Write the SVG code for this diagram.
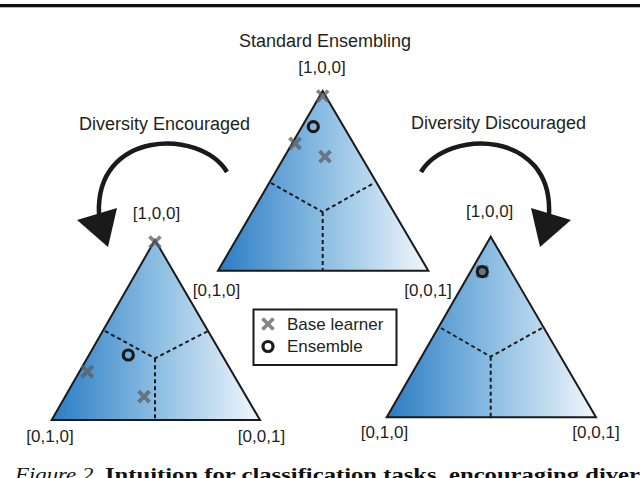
<svg xmlns="http://www.w3.org/2000/svg" xmlns:xlink="http://www.w3.org/1999/xlink" width="640" height="478" viewBox="0 0 640 478">
<style>
.lbl{font-family:"Liberation Sans","Noto Sans",Arial,sans-serif;font-size:17px;fill:#231f20}
.ttl{font-family:"Liberation Sans","Noto Sans",Arial,sans-serif;font-size:18px;fill:#231f20}
.tri{fill:url(#blue);stroke:#1a1a1a;stroke-width:2;stroke-linejoin:miter}
.dash{fill:none;stroke:#1a1a1a;stroke-width:2;stroke-dasharray:4 3}
.xm{stroke:#5a5f63;stroke-opacity:0.75;stroke-width:3.8;fill:none}
.ens{fill:none;stroke:#1a1a1a;stroke-width:3.2}
.arc{fill:none;stroke:#1a1a1a;stroke-width:4.5}
.head{fill:#1a1a1a}
.cap{font-family:"Liberation Serif","Times New Roman",serif;font-size:19px;fill:#111}
</style>
<defs>
<linearGradient id="blue" x1="0" y1="0" x2="1" y2="0">
<stop offset="0" stop-color="#2a7cc4"/>
<stop offset="0.5" stop-color="#8bbde2"/>
<stop offset="1" stop-color="#f2f7fc"/>
</linearGradient>
<path id="x" d="M-5.5,-5.5 L5.5,5.5 M-5.5,5.5 L5.5,-5.5"/>
</defs>
<rect x="0" y="4" width="640" height="3.3" fill="#111"/>

<g id="connectors">
<g id="arrow-encouraged">
<path class="arc" d="M227,172 C200,128 95,130 99,214"/>
<polygon class="head" points="77,220 117,208 108,247"/>
</g>
<g id="arrow-discouraged">
<path class="arc" d="M421,172 C448,128 553,130 549,214"/>
<polygon class="head" points="571,220 531,208 540,247"/>
</g>
</g>

<text class="ttl" x="79" y="130">Diversity Encouraged</text>
<text class="ttl" x="411" y="129">Diversity Discouraged</text>

<g id="standard">
<text class="ttl" x="325" y="47" text-anchor="middle">Standard Ensembling</text>
<text class="lbl" x="322" y="73" text-anchor="middle">[1,0,0]</text>
<polygon class="tri" points="322.7,91 218,270.7 428.3,270.7"/>
<path class="dash" d="M271,183 L322.7,212 L374,183 M322.7,212 L322.7,270"/>
<use xlink:href="#x" href="#x" class="xm" x="322.7" y="96"/>
<use xlink:href="#x" href="#x" class="xm" x="295" y="143.3"/>
<use xlink:href="#x" href="#x" class="xm" x="325" y="156.7"/>
<circle class="ens" cx="313.3" cy="126.7" r="5"/>
<text class="lbl" x="216.5" y="296" text-anchor="middle">[0,1,0]</text>
<text class="lbl" x="428" y="296" text-anchor="middle">[0,0,1]</text>
</g>

<g id="encouraged">
<text class="lbl" x="156.5" y="219" text-anchor="middle">[1,0,0]</text>
<polygon class="tri" points="155,240 51.7,420 260,420"/>
<path class="dash" d="M105,331 L155,358.3 L208,331 M155,358.3 L155,420"/>
<use xlink:href="#x" href="#x" class="xm" x="155" y="242"/>
<use xlink:href="#x" href="#x" class="xm" x="87.3" y="371.7"/>
<use xlink:href="#x" href="#x" class="xm" x="144" y="396.7"/>
<circle class="ens" cx="128.3" cy="355" r="5"/>
<text class="lbl" x="50" y="442" text-anchor="middle">[0,1,0]</text>
<text class="lbl" x="261.5" y="442" text-anchor="middle">[0,0,1]</text>
</g>

<g id="discouraged">
<text class="lbl" x="489.7" y="217" text-anchor="middle">[1,0,0]</text>
<polygon class="tri" points="490.7,236.7 386.7,417.3 596,417.3"/>
<path class="dash" d="M441,328 L490.7,356.7 L542,328 M490.7,356.7 L490.7,417"/>
<use xlink:href="#x" href="#x" class="xm" x="482.3" y="271.7"/>
<circle class="ens" cx="482.3" cy="271.7" r="5" stroke-width="4"/>
<text class="lbl" x="384.5" y="438" text-anchor="middle">[0,1,0]</text>
<text class="lbl" x="596" y="438" text-anchor="middle">[0,0,1]</text>
</g>

<g id="legend">
<rect x="253.5" y="309.5" width="143" height="55.5" fill="#fff" stroke="#1a1a1a" stroke-width="2"/>
<use xlink:href="#x" href="#x" class="xm" x="268" y="324"/>
<circle class="ens" cx="268" cy="346.5" r="5"/>
<text class="lbl" x="287" y="330">Base learner</text>
<text class="lbl" x="287" y="352">Ensemble</text>
</g>

<text class="cap" x="15" y="481" font-style="italic" textLength="84" lengthAdjust="spacingAndGlyphs">Figure 2.</text>
<text class="cap" x="105" y="481" font-weight="bold" textLength="535" lengthAdjust="spacingAndGlyphs">Intuition for classification tasks, encouraging diver</text>
</svg>
